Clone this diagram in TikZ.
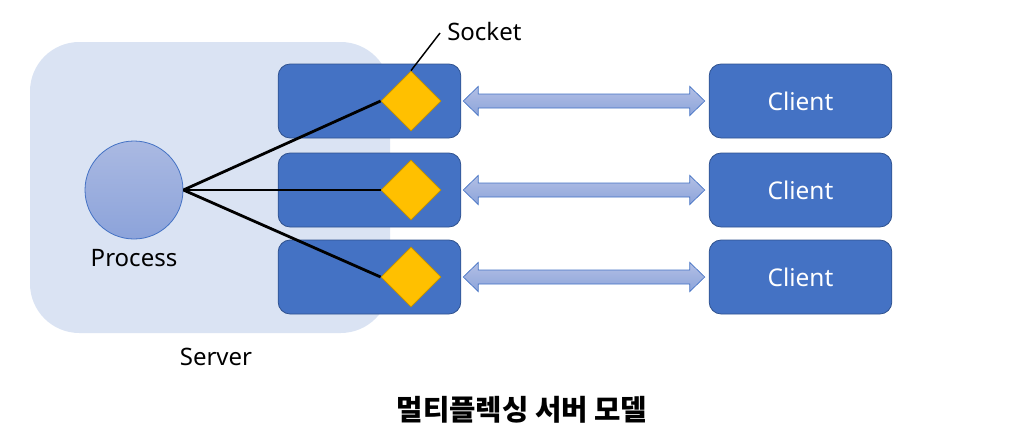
\documentclass[tikz,border=0pt]{standalone}
\usepackage{fontspec}
\setmainfont{Noto Sans}
\newfontfamily\krfont{Noto Sans CJK KR}
\usetikzlibrary{shapes.geometric,calc}
\definecolor{srvbg}{HTML}{DAE3F3}
\definecolor{boxblue}{HTML}{4472C4}
\definecolor{boxedge}{HTML}{2F528F}
\definecolor{sockfill}{HTML}{FFC000}
\definecolor{sockedge}{HTML}{BF9000}
\definecolor{lightblue}{HTML}{AAB9E2}
\definecolor{midblue}{HTML}{8CA3DA}
% double headed block arrow between two nodes
\newcommand\linkarrow[2]{%
  \draw[linkarr] let \p1=($(#1.east)+(2,0)$), \p2=($(#2.west)+(-4,0)$) in
    (\x1,\y1) -- (\x1+11.25pt,\y1+10.9pt) -- (\x1+11.25pt,\y1+5.25pt) --
    (\x2-11.25pt,\y1+5.25pt) -- (\x2-11.25pt,\y1+10.9pt) -- (\x2,\y1) --
    (\x2-11.25pt,\y1-10.9pt) -- (\x2-11.25pt,\y1-5.25pt) --
    (\x1+11.25pt,\y1-5.25pt) -- (\x1+11.25pt,\y1-10.9pt) -- cycle;}
\begin{document}
\begin{tikzpicture}[x=0.75pt,y=-0.75pt,
  sockbox/.style={rectangle,rounded corners=9pt,fill=boxblue,draw=boxedge,line width=0.6pt,
    minimum width=137pt,minimum height=55.5pt,inner sep=0pt},
  client/.style={sockbox,text=white,font=\fontsize{18.3}{20}\selectfont},
  sock/.style={diamond,aspect=1,fill=sockfill,draw=sockedge,line width=0.6pt,minimum size=45pt,inner sep=0pt},
  proc/.style={circle,top color=lightblue,bottom color=midblue,draw=boxblue,line width=0.6pt,
    minimum size=73.5pt,inner sep=0pt},
  linkarr/.style={top color=lightblue!90!white,bottom color=midblue,draw=boxblue,line width=0.5pt},
  wire/.style={draw=black,line width=2.1pt},
  lab/.style={font=\fontsize{18}{20}\selectfont,inner sep=0pt}]
  \useasboundingbox (0,0) rectangle (1035,443);
  % server area
  \fill[srvbg,rounded corners=37pt] (30,42) rectangle (390,333);
  \node[proc] (proc) at (134,190) {};
  \foreach \i/\yy in {1/101,2/190,3/277} {
    \node[sockbox] (b\i) at (369.5,\yy) {};
    \node[client] (c\i) at (800.5,\yy) {Client};
    \node[sock] (s\i) at (411,\yy) {};
    \draw[wire] (proc.east) -- (s\i.west);
    \linkarrow{b\i}{c\i}; }
  % socket label
  \coordinate (sockend) at (440,33);
  \draw[line width=1.1pt] (s1.north) -- (sockend);
  \node[lab,anchor=west] (socklbl) at (447,31) {Socket};
  \node[lab] (proclbl) at (134,258) {Process};
  \node[lab] (srvlbl) at (216,357) {Server};
  \node[font=\krfont\bfseries\fontsize{21.5}{24}\selectfont] (title) at (522,410) {멀티플렉싱 서버 모델};
\end{tikzpicture}
\end{document}
